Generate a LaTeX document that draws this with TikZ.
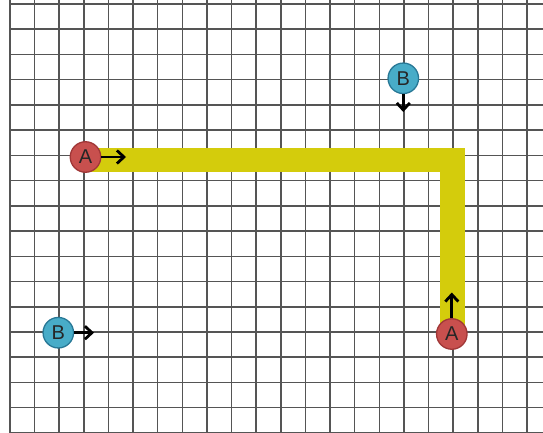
\documentclass[tikz,border=0pt]{standalone}
\usepackage{fontspec}
\setmainfont{Liberation Sans}
\usetikzlibrary{arrows.meta}
\definecolor{gridc}{RGB}{85,85,85}
\definecolor{bandc}{RGB}{212,204,12}
\definecolor{redfill}{RGB}{200,80,78}
\definecolor{redline}{RGB}{160,55,55}
\definecolor{bluefill}{RGB}{72,172,200}
\definecolor{blueline}{RGB}{40,120,150}
\tikzset{
  gridline/.style={draw=gridc, line width=1.5pt},
  band/.style={draw=bandc, line width=24.5pt, line join=miter, line cap=butt},
  tokenA/.style={circle, fill=redfill, draw=redline, line width=1.3pt, minimum size=30.5pt, inner sep=0pt, font=\fontsize{20}{20}\selectfont, text=black!85},
  tokenB/.style={circle, fill=bluefill, draw=blueline, line width=1.3pt, minimum size=30.5pt, inner sep=0pt, font=\fontsize{20}{20}\selectfont, text=black!85},
  dirarrow/.style={draw=black, line width=2.8pt, -{Straight Barb[length=7pt,width=13pt,line width=2.8pt]}}
}
\begin{document}
\begin{tikzpicture}[x=1pt,y=-1pt]
\useasboundingbox (0,0) rectangle (543,433);
\fill[white] (0,0) rectangle (543,433);
% grid
\foreach \k in {0,...,21} {
  \draw[gridline] ({10+24.62*\k},0) -- ({10+24.62*\k},433);
}
\foreach \j in {0,...,17} {
  \draw[gridline] (10,{4+25.23*\j}) -- (543,{4+25.23*\j});
}
% yellow path
\coordinate (ystart) at (86,159.8);
\coordinate (ycorner) at (452.5,159.8);
\coordinate (yend) at (452.5,333);
\draw[band] (ystart) -- (ycorner) -- (yend);
% tokens
\node[tokenA] (a1) at (85.5,157) {A};
\node[tokenA] (a2) at (451.8,334) {A};
\node[tokenB] (b1) at (403.3,78.3) {B};
\node[tokenB] (b2) at (58.3,332.7) {B};
% arrow tips
\coordinate (a1t) at (126,157);
\coordinate (a2t) at (451.8,292.5);
\coordinate (b1t) at (403.3,112);
\coordinate (b2t) at (94,332.7);
\draw[dirarrow] (a1) -- (a1t);
\draw[dirarrow] (a2) -- (a2t);
\draw[dirarrow] (b1) -- (b1t);
\draw[dirarrow] (b2) -- (b2t);
\end{tikzpicture}
\end{document}
